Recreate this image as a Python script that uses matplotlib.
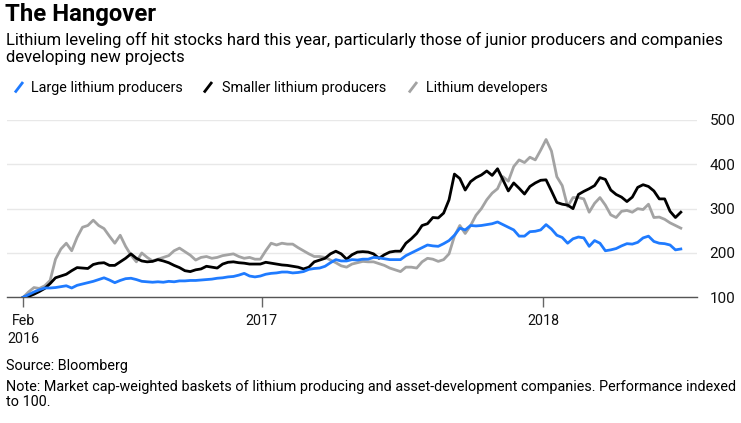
import matplotlib
matplotlib.use("Agg")
import matplotlib.pyplot as plt
import pandas as pd
from matplotlib.lines import Line2D

plt.rcParams['font.family'] = ['Roboto', 'Liberation Sans', 'DejaVu Sans']

# ---------------- data (weekly, indexed to 100) ----------------
start_date = "2016-02-26"
n_weeks = 123

large_producers = [
    100, 106, 112, 117, 121, 121, 122, 124, 126, 121,
    127, 130, 133, 136, 140, 144, 139, 133, 138, 142,
    143, 140, 136, 135, 134, 135, 134, 136, 135, 137,
    137, 138, 138, 139, 140, 141, 143, 144, 146, 147,
    150, 154, 148, 146, 148, 152, 154, 155, 157, 157,
    155, 156, 158, 163, 165, 166, 170, 178, 185, 182,
    182, 185, 184, 186, 186, 190, 189, 187, 185, 185,
    185, 194, 200, 206, 212, 218, 216, 215, 221, 228,
    240, 256, 252, 262, 261, 262, 264, 266, 270, 264,
    258, 252, 238, 238, 248, 249, 252, 264, 254, 240,
    235, 222, 232, 236, 234, 215, 228, 222, 205, 207,
    210, 216, 221, 220, 224, 234, 238, 226, 222, 221,
    218, 207, 209,
]

smaller_producers = [
    100, 102, 107, 113, 120, 131, 144, 148, 152, 160,
    167, 166, 165, 174, 177, 178, 172, 172, 180, 188,
    198, 188, 182, 180, 181, 185, 182, 178, 172, 167,
    160, 158, 162, 164, 170, 168, 166, 175, 179, 180,
    178, 177, 175, 175, 175, 179, 177, 175, 173, 172,
    170, 168, 164, 168, 180, 184, 188, 198, 204, 198,
    186, 196, 202, 203, 202, 198, 188, 196, 202, 204,
    204, 222, 232, 244, 262, 266, 280, 279, 290, 320,
    378, 368, 342, 361, 370, 376, 385, 375, 390, 365,
    340, 358, 346, 333, 350, 358, 364, 365, 340, 314,
    310, 308, 300, 332, 339, 345, 352, 370, 366, 342,
    332, 326, 316, 326, 348, 354, 350, 340, 322, 322,
    294, 280, 292,
]

developers = [
    100, 112, 122, 120, 126, 138, 186, 209, 222, 205,
    235, 258, 262, 274, 262, 255, 238, 222, 240, 215,
    195, 180, 200, 190, 182, 186, 190, 194, 205, 211,
    203, 195, 184, 190, 192, 188, 190, 194, 196, 198,
    192, 188, 190, 186, 186, 205, 222, 218, 222, 220,
    220, 212, 205, 198, 192, 192, 190, 184, 178, 171,
    168, 175, 178, 181, 180, 180, 176, 172, 166, 162,
    158, 168, 168, 166, 180, 188, 186, 181, 185, 198,
    238, 262, 244, 262, 285, 300, 320, 335, 345, 372,
    362, 395, 410, 404, 416, 410, 432, 456, 430, 372,
    352, 305, 325, 325, 322, 292, 312, 325, 308, 286,
    280, 294, 296, 292, 300, 298, 310, 280, 281, 276,
    268, 262, 256,
]

series_names = ["Large lithium producers", "Smaller lithium producers", "Lithium developers"]
series_colors = ["#1f7bff", "#000000", "#a3a3a3"]

x_tick_dates = ["2016-02-26", "2017-01-01", "2018-01-01"]
x_tick_labels = ["Feb\n2016", "2017", "2018"]
y_ticks = [100, 200, 300, 400, 500]

title = "The Hangover"
subtitle = ["Lithium leveling off hit stocks hard this year, particularly those of junior producers and companies",
            "developing new projects"]
source = "Source: Bloomberg"
note = ["Note: Market cap-weighted baskets of lithium producing and asset-development companies. Performance indexed",
        "to 100."]

# ---------------- figure ----------------
W, H = 741, 423
fig = plt.figure(figsize=(W / 100, H / 100), dpi=100)
fig.patch.set_facecolor("white")

def fx(px):
    return px / W

def fy(py):
    return 1 - py / H

ax = fig.add_axes([fx(7), fy(297.3), (697 - 7) / W, (297.3 - 120) / H])

dates = pd.date_range(start_date, periods=n_weeks, freq="7D")
ax.plot(dates, developers, color=series_colors[2], lw=2.0, zorder=3, solid_joinstyle="round")
ax.plot(dates, smaller_producers, color=series_colors[1], lw=2.0, zorder=4, solid_joinstyle="round")
ax.plot(dates, large_producers, color=series_colors[0], lw=2.0, zorder=5, solid_joinstyle="round")

ax.set_xlim(pd.Timestamp("2016-02-05"), pd.Timestamp("2018-07-20"))
ax.set_ylim(100, 500)

ax.set_yticks(y_ticks)
ax.yaxis.tick_right()
ax.tick_params(axis="y", length=0, pad=9, labelsize=11, labelcolor="#111111")
ax.grid(axis="y", color="#e8e8e8", lw=1, zorder=0)
ax.set_axisbelow(True)

ax.set_xticks([pd.Timestamp(d) for d in x_tick_dates])
ax.set_xticklabels(x_tick_labels, linespacing=1.4)
ax.tick_params(axis="x", length=7, width=1, color="#666666", pad=5, labelsize=10.3, labelcolor="#111111")

for s in ["top", "left", "right"]:
    ax.spines[s].set_visible(False)
ax.spines["bottom"].set_color("#555555")
ax.spines["bottom"].set_linewidth(1)
ax.set_facecolor("white")

# ---------------- texts ----------------
t_title = fig.text(fx(5), fy(20.7), title, fontsize=15, fontweight="bold", va="baseline", ha="left")
t_sub1 = fig.text(fx(5.5), fy(45), subtitle[0], fontsize=11, va="baseline", ha="left")
t_sub2 = fig.text(fx(5.5), fy(62.3), subtitle[1], fontsize=11, va="baseline", ha="left")

leg_text_x = [31, 222, 426]
leg_slash_x = [15, 204, 409]
leg_texts = []
for name, col, tx, sx in zip(series_names, series_colors, leg_text_x, leg_slash_x):
    leg_texts.append(fig.text(fx(tx), fy(91.7), name, fontsize=10, va="baseline", ha="left"))
    fig.add_artist(Line2D([fx(sx), fx(sx + 8)], [fy(92.5), fy(82)], color=col, lw=2,
                          transform=fig.transFigure, solid_capstyle="butt"))

t_src = fig.text(fx(5.5), fy(370), source, fontsize=10, va="baseline", ha="left")
t_note1 = fig.text(fx(5.5), fy(391), note[0], fontsize=10, va="baseline", ha="left")
t_note2 = fig.text(fx(5.5), fy(406), note[1], fontsize=10, va="baseline", ha="left")

# fit text widths to the reference
fig.canvas.draw()
r = fig.canvas.get_renderer()

def fit(t, target):
    w = t.get_window_extent(r).width
    t.set_fontsize(t.get_fontsize() * target / w)

fit(t_title, 152)
fit(t_sub1, 715)
t_sub2.set_fontsize(t_sub1.get_fontsize())
fit(leg_texts[0], 152)
for t in leg_texts[1:]:
    t.set_fontsize(leg_texts[0].get_fontsize())
fit(t_note1, 729)
t_note2.set_fontsize(t_note1.get_fontsize())
t_src.set_fontsize(t_note1.get_fontsize())

fig.savefig("out.png", dpi=100, facecolor="white")
